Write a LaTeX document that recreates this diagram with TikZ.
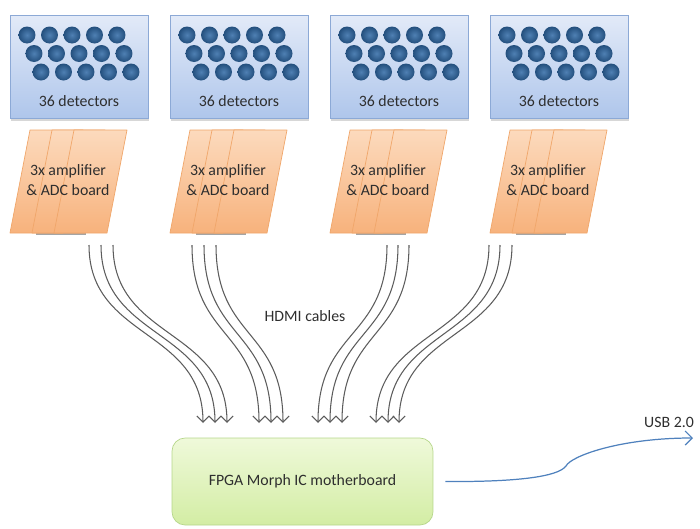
\documentclass[tikz,border=0pt]{standalone}
\usepackage{fontspec}
\setmainfont{Carlito}
\usetikzlibrary{arrows.meta,shadows}
\definecolor{dettop}{HTML}{E2EAF8}
\definecolor{detbot}{HTML}{AFC6EB}
\definecolor{detline}{HTML}{8CA9D6}
\definecolor{dotin}{HTML}{4F80B3}
\definecolor{dotout}{HTML}{234F7D}
\definecolor{brdtop}{HTML}{FCDABD}
\definecolor{brdbot}{HTML}{F7B27C}
\definecolor{brdline}{HTML}{F0A66A}
\definecolor{mbtop}{HTML}{EFF9DA}
\definecolor{mbbot}{HTML}{D3EDA4}
\definecolor{mbline}{HTML}{B5D68A}
\definecolor{cblcol}{HTML}{5C5C5C}
\definecolor{usbcol}{HTML}{4F81BD}
\definecolor{txt}{HTML}{2E2E2E}
\tikzstyle{det} = [rectangle, draw=detline, top color=dettop, bottom color=detbot,
    minimum width=2.76cm, minimum height=2.06cm,
    drop shadow={shadow xshift=0.4pt, shadow yshift=-1.6pt, fill=black!45, opacity=.35}]
\tikzstyle{dot} = [inner color=dotin, outer color=dotout]
\tikzstyle{brd} = [draw=brdline, top color=brdtop, bottom color=brdbot, line join=round]
\tikzstyle{mb} = [rectangle, draw=mbline, top color=mbtop, bottom color=mbbot,
    rounded corners=0.26cm, minimum width=5.22cm, minimum height=1.74cm]
\tikzstyle{lbl} = [align=center, inner sep=1pt]
\tikzstyle{cbl} = [draw=cblcol, line width=0.6pt, -{Straight Barb[length=3.6pt,width=7pt]}]
\tikzstyle{usbl} = [draw=usbcol, line width=0.7pt, -{Straight Barb[length=4pt,width=8pt]}]

\begin{document}
\begin{tikzpicture}[x=0.02cm, y=-0.02cm, font=\fontsize{9}{11.4}\selectfont, text=txt]
  \useasboundingbox (0,0) rectangle (700,528);

  % detector blocks and amplifier boards
  \foreach \i in {0,...,3}{
    \pgfmathsetmacro{\bx}{10+160*\i}
    \node[det] (det\i) at (\bx+69,66.5) {};
    \foreach \c in {0,...,4}{
      \shade[dot] (\bx+17+22.5*\c,35) circle (0.17cm);
      \shade[dot] (\bx+24+22.5*\c,53.5) circle (0.17cm);
      \shade[dot] (\bx+31+22.5*\c,72) circle (0.17cm);
    }
    \node[lbl] (dl\i) at (\bx+69,101) {36 detectors};
    \fill[black!70, opacity=.5] (\bx+26,231) rectangle (\bx+76,235);
    \foreach \s in {0,22,44}
      \draw[brd] (\bx+\s+20,130) -- (\bx+\s+73,130) -- (\bx+\s+53,233) -- (\bx+\s,233) -- cycle;
    \node[lbl] (brd\i) at (\bx+58,180) {3x amplifier\\\& ADC board};
  }

  \node[mb] (mb) at (302.5,481.5) {FPGA Morph IC motherboard};

  % HDMI cables
  \foreach \sx/\ex [count=\n] in {89/203, 101/215, 113/227,
                                  192/259, 204/271, 216/283,
                                  387/318, 398/330, 409/342,
                                  489/376, 500/388, 512/399}{
    \coordinate (cs\n) at (\sx,245);
    \coordinate (ce\n) at (\ex,423);
    \draw[cbl] (cs\n) .. controls +(0,95) and +(0,-95) .. (ce\n);
  }
  \node[lbl] (hdmi) at (305,316) {HDMI cables};

  % USB link
  \coordinate (usb) at (693,438);
  \coordinate (kink) at (566,466);
  \draw[usbl] ([xshift=0.24cm]mb.east) .. controls (515,482) and (558,477) .. (kink)
      .. controls (571,456) and (620,438) .. (usb);
  \node[lbl] (usblbl) at (669,422) {USB 2.0};
\end{tikzpicture}
\end{document}
